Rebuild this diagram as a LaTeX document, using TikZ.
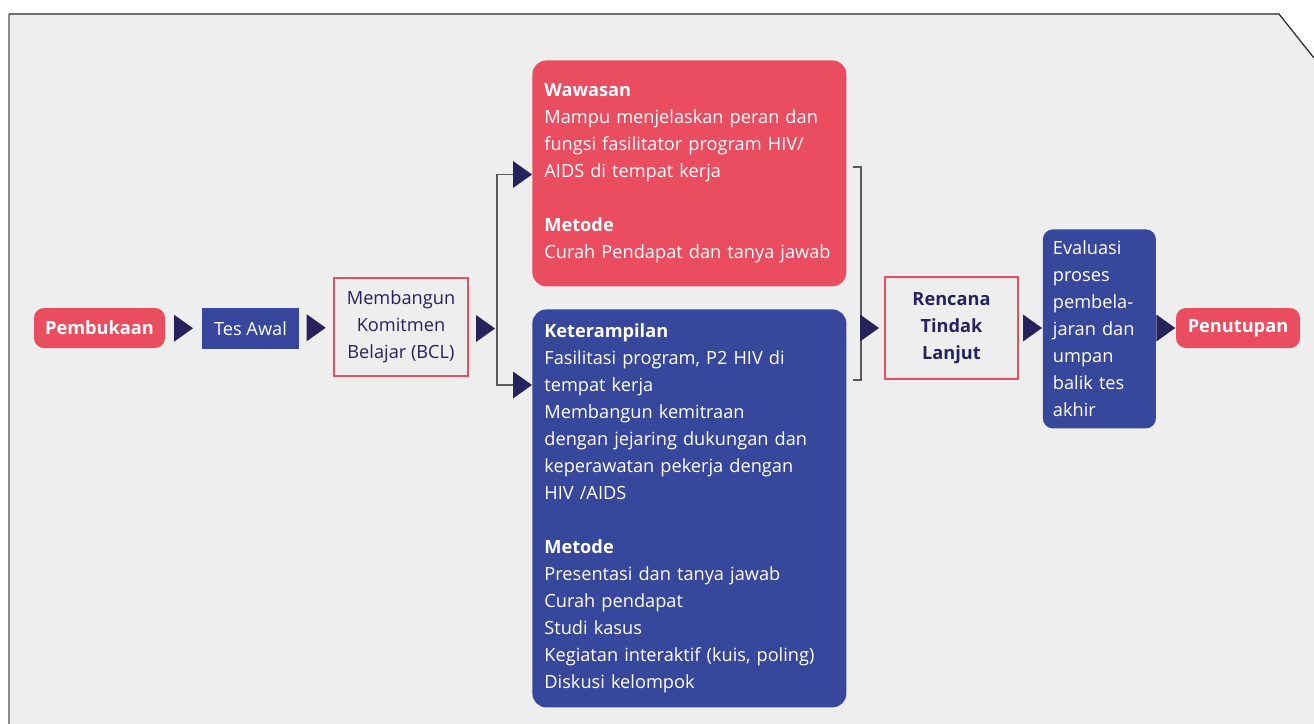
\documentclass[tikz,border=0pt]{standalone}
\usepackage{fontspec}
\setmainfont{Open Sans}
\usepackage{xcolor}
\usetikzlibrary{calc}
\definecolor{merah}{HTML}{EA4C60}
\definecolor{biru}{HTML}{37479B}
\definecolor{gelap}{HTML}{27215C}
\definecolor{latar}{HTML}{EEEEEE}

\begin{document}
\begin{tikzpicture}[x=0.5pt, y=-0.5pt,
		every node/.style={font=\fontsize{9.1}{13.5}\selectfont, inner sep=0pt},
		pill/.style={fill=merah, text=white, font=\fontsize{9.1}{13.5}\selectfont\bfseries, rounded corners=5pt, minimum height=20pt},
		kotak/.style={draw=merah, line width=1pt, fill=latar, text=gelap, align=center},
		isi/.style={fill=biru, text=white, rounded corners=7pt, align=left, anchor=north west},
		rule/.style={draw=black!65, line width=0.6pt},
		panah/.pic={\fill[gelap] (-9.5,-13.5) -- (9.5,0) -- (-9.5,13.5) -- cycle;}]
			\useasboundingbox (0,0) rectangle (1314,724);

			% frame
			\fill[latar] (9,14) -- (1279,14) -- (1314,58) -- (1314,724) -- (9,724) -- cycle;
			\draw[black!45, line width=1pt] (9,724) -- (9,14);
			\draw[black!85, line width=0.6pt] (9,14) -- (1279,14) -- (1314,58);

			\node[pill, minimum width=65.5pt] (buka) at (99.5,328) {Pembukaan};
			\node[fill=biru, text=white, minimum width=48.5pt, minimum height=20.5pt] (tes) at (250.5,328.5) {Tes Awal};
			\node[kotak, minimum width=67pt, minimum height=49pt] (bcl) at (401,327) {Membangun\\Komitmen\\Belajar (BCL)};

			\node[isi, fill=merah, minimum width=157pt, minimum height=113pt, text width=145pt, inner xsep=6pt] (wawasan) at (532,60)
				{\textbf{Wawasan}\\Mampu menjelaskan peran dan\\fungsi fasilitator program HIV/\\AIDS di tempat kerja\\[13.5pt]\textbf{Metode}\\Curah Pendapat dan tanya jawab};
			\node[isi, minimum width=157pt, minimum height=199pt, text width=145pt, inner xsep=6pt] (terampil) at (532,309)
				{\textbf{Keterampilan}\\Fasilitasi program, P2 HIV di\\tempat kerja\\Membangun kemitraan\\dengan jejaring dukungan dan\\keperawatan pekerja dengan\\HIV /AIDS\\[13.5pt]\textbf{Metode}\\Presentasi dan tanya jawab\\Curah pendapat\\Studi kasus\\Kegiatan interaktif (kuis, poling)\\Diskusi kelompok};

			\node[kotak, font=\fontsize{9.1}{13.5}\selectfont\bfseries, minimum width=66.5pt, minimum height=51pt] (rtl) at (951.5,328) {Rencana\\Tindak\\Lanjut};
			\node[isi, rounded corners=5pt, minimum width=56.5pt, minimum height=99.5pt, text width=46.5pt, inner xsep=5pt] (evaluasi) at (1042.5,229)
				{Evaluasi\\proses\\pembela-\\jaran dan\\umpan\\balik tes\\akhir};
			\node[pill, minimum width=62pt] (tutup) at (1238,328) {Penutupan};

			% brackets
			\coordinate (f1) at (497,174.5);
			\coordinate (f2) at (497,385);
			\coordinate (g1) at (861,167);
			\coordinate (g2) at (861,380);
			\path[rule] (f1 -| wawasan.west) ++(-19,0) -- (f1) -- (f2) -- ++(16,0);
			\path[rule] (g1) ++(-8,0) -- (g1) -- (g2) -- ++(-8,0);

			% arrow heads
			\pic at ($(buka.east)!0.5!(tes.west)$) {panah};
			\pic at ($(tes.east)!0.5!(bcl.west)$) {panah};
			\pic at (485.5,328.5) {panah};
			\pic at ($(f1 -| wawasan.west)+(-9.5,0)$) {panah};
			\pic at ($(f2 -| terampil.west)+(-9.5,0)$) {panah};
			\pic at ($(rtl.west)+(-14.5,0)$) {panah};
			\pic at ($(rtl.east)+(13.5,0)$) {panah};
			\pic at ($(evaluasi.east |- tutup)+(9.5,0)$) {panah};
		\end{tikzpicture}
\end{document}
